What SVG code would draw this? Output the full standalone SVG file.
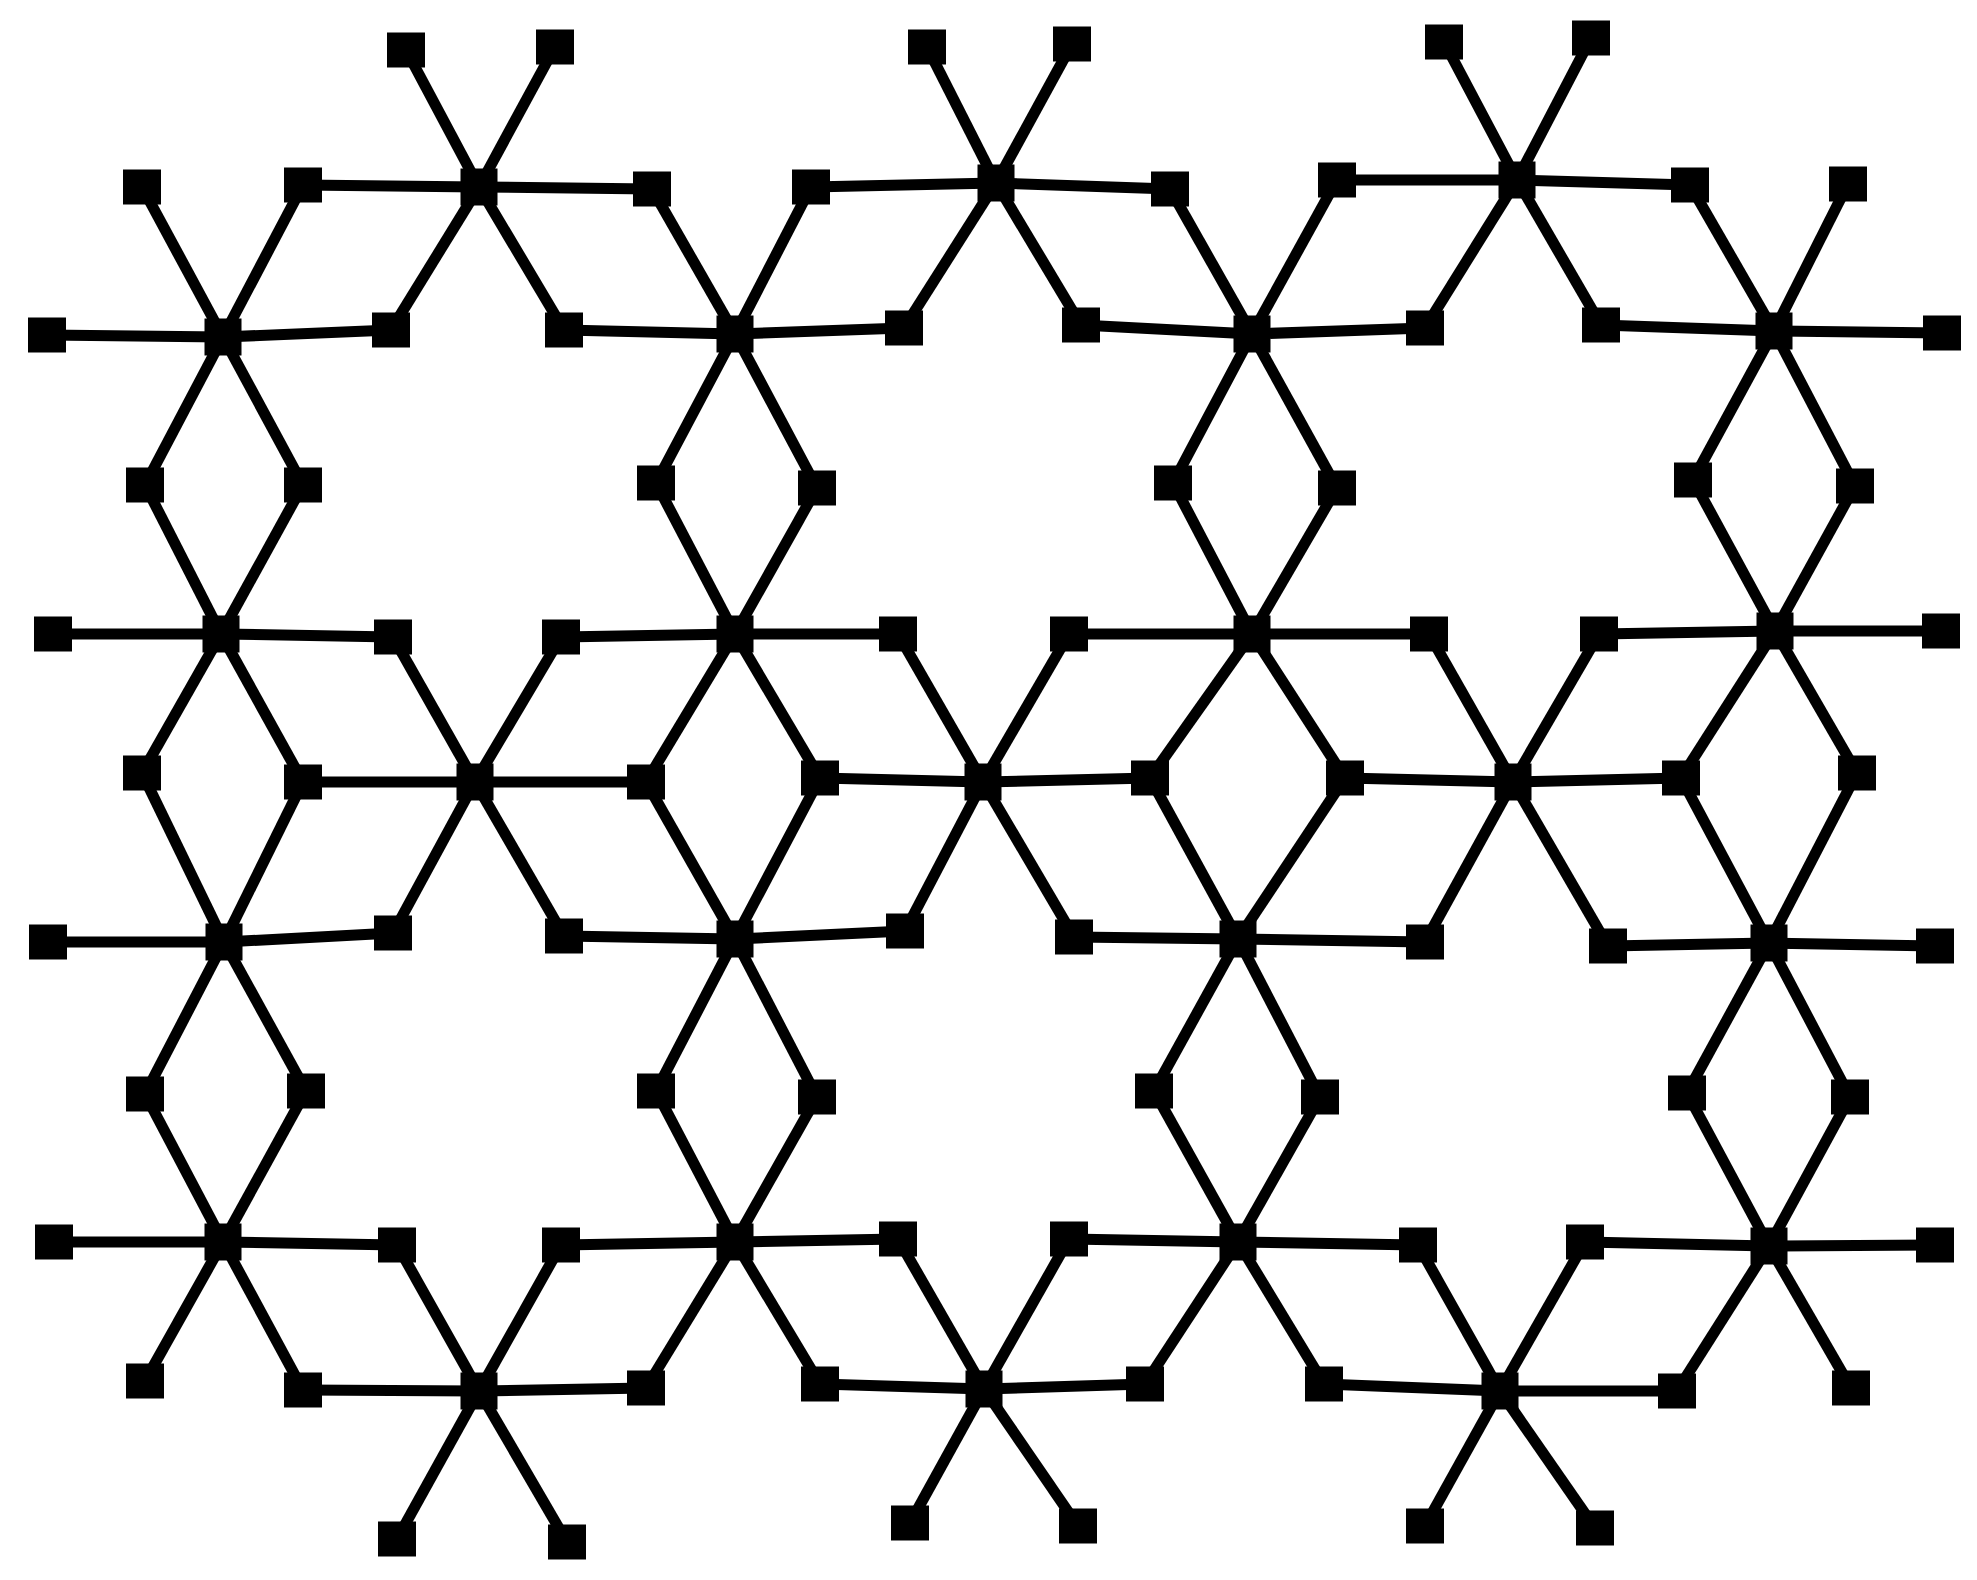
<svg xmlns="http://www.w3.org/2000/svg" xmlns:xlink="http://www.w3.org/1999/xlink" width="1977" height="1580" viewBox="0 0 1977 1580">
<style>
.e line{stroke:#000;stroke-width:11;stroke-linecap:butt}
</style>
<defs>
<rect id="leaf" x="-19" y="-17.5" width="38" height="35" fill="#000"/>
<rect id="hub" x="-18.5" y="-18.5" width="37" height="37" fill="#000"/>
</defs>
<rect width="1977" height="1580" fill="#fff"/>
<g id="connectors" class="e">
<!-- A1 -->
<line x1="479" y1="187" x2="406" y2="50"/><line x1="479" y1="187" x2="555" y2="47"/><line x1="479" y1="187" x2="303" y2="185"/><line x1="479" y1="187" x2="652" y2="189"/><line x1="479" y1="187" x2="391" y2="330"/><line x1="479" y1="187" x2="564" y2="330"/>
<!-- A2 -->
<line x1="996" y1="183" x2="927" y2="47"/><line x1="996" y1="183" x2="1072" y2="44"/><line x1="996" y1="183" x2="811" y2="187"/><line x1="996" y1="183" x2="1170" y2="189"/><line x1="996" y1="183" x2="904" y2="328"/><line x1="996" y1="183" x2="1081" y2="325"/>
<!-- A3 -->
<line x1="1517" y1="180" x2="1444" y2="42"/><line x1="1517" y1="180" x2="1591" y2="38"/><line x1="1517" y1="180" x2="1337" y2="180"/><line x1="1517" y1="180" x2="1690" y2="185"/><line x1="1517" y1="180" x2="1425" y2="328"/><line x1="1517" y1="180" x2="1601" y2="325"/>
<!-- B1 -->
<line x1="223" y1="337" x2="47" y2="335"/><line x1="223" y1="337" x2="391" y2="330"/><line x1="223" y1="337" x2="142" y2="187"/><line x1="223" y1="337" x2="303" y2="185"/><line x1="223" y1="337" x2="145" y2="485"/><line x1="223" y1="337" x2="303" y2="485"/>
<!-- B2 -->
<line x1="735" y1="334" x2="564" y2="330"/><line x1="735" y1="334" x2="904" y2="328"/><line x1="735" y1="334" x2="652" y2="189"/><line x1="735" y1="334" x2="811" y2="187"/><line x1="735" y1="334" x2="656" y2="483"/><line x1="735" y1="334" x2="817" y2="488"/>
<!-- B3 -->
<line x1="1252" y1="334" x2="1081" y2="325"/><line x1="1252" y1="334" x2="1425" y2="328"/><line x1="1252" y1="334" x2="1170" y2="189"/><line x1="1252" y1="334" x2="1337" y2="180"/><line x1="1252" y1="334" x2="1173" y2="483"/><line x1="1252" y1="334" x2="1337" y2="488"/>
<!-- B4 -->
<line x1="1774" y1="331" x2="1601" y2="325"/><line x1="1774" y1="331" x2="1942" y2="333"/><line x1="1774" y1="331" x2="1690" y2="185"/><line x1="1774" y1="331" x2="1848" y2="184"/><line x1="1774" y1="331" x2="1693" y2="480"/><line x1="1774" y1="331" x2="1855" y2="486"/>
<!-- C1 -->
<line x1="221" y1="634" x2="53" y2="634"/><line x1="221" y1="634" x2="393" y2="637"/><line x1="221" y1="634" x2="145" y2="485"/><line x1="221" y1="634" x2="303" y2="485"/><line x1="221" y1="634" x2="142" y2="773"/><line x1="221" y1="634" x2="303" y2="782"/>
<!-- C2 -->
<line x1="735" y1="634" x2="561" y2="637"/><line x1="735" y1="634" x2="898" y2="634"/><line x1="735" y1="634" x2="656" y2="483"/><line x1="735" y1="634" x2="817" y2="488"/><line x1="735" y1="634" x2="646" y2="782"/><line x1="735" y1="634" x2="820" y2="778"/>
<!-- C3 -->
<line x1="1252" y1="634" x2="1069" y2="634"/><line x1="1252" y1="634" x2="1429" y2="634"/><line x1="1252" y1="634" x2="1173" y2="483"/><line x1="1252" y1="634" x2="1337" y2="488"/><line x1="1252" y1="634" x2="1150" y2="778"/><line x1="1252" y1="634" x2="1345" y2="778"/>
<!-- C4 -->
<line x1="1775" y1="631" x2="1599" y2="634"/><line x1="1775" y1="631" x2="1941" y2="631"/><line x1="1775" y1="631" x2="1693" y2="480"/><line x1="1775" y1="631" x2="1855" y2="486"/><line x1="1775" y1="631" x2="1681" y2="778"/><line x1="1775" y1="631" x2="1857" y2="773"/>
<!-- D1 -->
<line x1="475" y1="782" x2="303" y2="782"/><line x1="475" y1="782" x2="646" y2="782"/><line x1="475" y1="782" x2="393" y2="637"/><line x1="475" y1="782" x2="561" y2="637"/><line x1="475" y1="782" x2="393" y2="933"/><line x1="475" y1="782" x2="564" y2="936"/>
<!-- D2 -->
<line x1="983" y1="782" x2="820" y2="778"/><line x1="983" y1="782" x2="1150" y2="778"/><line x1="983" y1="782" x2="898" y2="634"/><line x1="983" y1="782" x2="1069" y2="634"/><line x1="983" y1="782" x2="905" y2="931"/><line x1="983" y1="782" x2="1074" y2="937"/>
<!-- D3 -->
<line x1="1513" y1="782" x2="1345" y2="778"/><line x1="1513" y1="782" x2="1681" y2="778"/><line x1="1513" y1="782" x2="1429" y2="634"/><line x1="1513" y1="782" x2="1599" y2="634"/><line x1="1513" y1="782" x2="1425" y2="942"/><line x1="1513" y1="782" x2="1608" y2="946"/>
<!-- E1 -->
<line x1="224" y1="942" x2="48" y2="942"/><line x1="224" y1="942" x2="393" y2="933"/><line x1="224" y1="942" x2="142" y2="773"/><line x1="224" y1="942" x2="303" y2="782"/><line x1="224" y1="942" x2="145" y2="1094"/><line x1="224" y1="942" x2="306" y2="1091"/>
<!-- E2 -->
<line x1="735" y1="939" x2="564" y2="936"/><line x1="735" y1="939" x2="905" y2="931"/><line x1="735" y1="939" x2="646" y2="782"/><line x1="735" y1="939" x2="820" y2="778"/><line x1="735" y1="939" x2="656" y2="1091"/><line x1="735" y1="939" x2="817" y2="1097"/>
<!-- E3 -->
<line x1="1238" y1="939" x2="1074" y2="937"/><line x1="1238" y1="939" x2="1425" y2="942"/><line x1="1238" y1="939" x2="1150" y2="778"/><line x1="1238" y1="939" x2="1345" y2="778"/><line x1="1238" y1="939" x2="1154" y2="1091"/><line x1="1238" y1="939" x2="1320" y2="1097"/>
<!-- E4 -->
<line x1="1769" y1="943" x2="1608" y2="946"/><line x1="1769" y1="943" x2="1935" y2="946"/><line x1="1769" y1="943" x2="1681" y2="778"/><line x1="1769" y1="943" x2="1857" y2="773"/><line x1="1769" y1="943" x2="1687" y2="1093"/><line x1="1769" y1="943" x2="1850" y2="1097"/>
<!-- F1 -->
<line x1="223" y1="1242" x2="54" y2="1242"/><line x1="223" y1="1242" x2="397" y2="1245"/><line x1="223" y1="1242" x2="145" y2="1094"/><line x1="223" y1="1242" x2="306" y2="1091"/><line x1="223" y1="1242" x2="145" y2="1381"/><line x1="223" y1="1242" x2="303" y2="1390"/>
<!-- F2 -->
<line x1="735" y1="1242" x2="561" y2="1245"/><line x1="735" y1="1242" x2="898" y2="1239"/><line x1="735" y1="1242" x2="656" y2="1091"/><line x1="735" y1="1242" x2="817" y2="1097"/><line x1="735" y1="1242" x2="646" y2="1388"/><line x1="735" y1="1242" x2="820" y2="1384"/>
<!-- F3 -->
<line x1="1238" y1="1242" x2="1069" y2="1239"/><line x1="1238" y1="1242" x2="1418" y2="1245"/><line x1="1238" y1="1242" x2="1154" y2="1091"/><line x1="1238" y1="1242" x2="1320" y2="1097"/><line x1="1238" y1="1242" x2="1145" y2="1384"/><line x1="1238" y1="1242" x2="1324" y2="1384"/>
<!-- F4 -->
<line x1="1769" y1="1246" x2="1585" y2="1242"/><line x1="1769" y1="1246" x2="1935" y2="1245"/><line x1="1769" y1="1246" x2="1687" y2="1093"/><line x1="1769" y1="1246" x2="1850" y2="1097"/><line x1="1769" y1="1246" x2="1677" y2="1391"/><line x1="1769" y1="1246" x2="1851" y2="1388"/>
<!-- G1 -->
<line x1="479" y1="1391" x2="303" y2="1390"/><line x1="479" y1="1391" x2="646" y2="1388"/><line x1="479" y1="1391" x2="397" y2="1245"/><line x1="479" y1="1391" x2="561" y2="1245"/><line x1="479" y1="1391" x2="397" y2="1539"/><line x1="479" y1="1391" x2="567" y2="1542"/>
<!-- G2 -->
<line x1="984" y1="1389" x2="820" y2="1384"/><line x1="984" y1="1389" x2="1145" y2="1384"/><line x1="984" y1="1389" x2="898" y2="1239"/><line x1="984" y1="1389" x2="1069" y2="1239"/><line x1="984" y1="1389" x2="910" y2="1523"/><line x1="984" y1="1389" x2="1078" y2="1526"/>
<!-- G3 -->
<line x1="1500" y1="1391" x2="1324" y2="1384"/><line x1="1500" y1="1391" x2="1677" y2="1391"/><line x1="1500" y1="1391" x2="1418" y2="1245"/><line x1="1500" y1="1391" x2="1585" y2="1242"/><line x1="1500" y1="1391" x2="1425" y2="1526"/><line x1="1500" y1="1391" x2="1595" y2="1528"/>
</g>
<g id="hubs">
<g id="hA1"><use href="#hub" x="479" y="187"/></g>
<g id="hA2"><use href="#hub" x="996" y="183"/></g>
<g id="hA3"><use href="#hub" x="1517" y="180"/></g>
<g id="hB1"><use href="#hub" x="223" y="337"/></g>
<g id="hB2"><use href="#hub" x="735" y="334"/></g>
<g id="hB3"><use href="#hub" x="1252" y="334"/></g>
<g id="hB4"><use href="#hub" x="1774" y="331"/></g>
<g id="hC1"><use href="#hub" x="221" y="634"/></g>
<g id="hC2"><use href="#hub" x="735" y="634"/></g>
<g id="hC3"><use href="#hub" x="1252" y="634"/></g>
<g id="hC4"><use href="#hub" x="1775" y="631"/></g>
<g id="hD1"><use href="#hub" x="475" y="782"/></g>
<g id="hD2"><use href="#hub" x="983" y="782"/></g>
<g id="hD3"><use href="#hub" x="1513" y="782"/></g>
<g id="hE1"><use href="#hub" x="224" y="942"/></g>
<g id="hE2"><use href="#hub" x="735" y="939"/></g>
<g id="hE3"><use href="#hub" x="1238" y="939"/></g>
<g id="hE4"><use href="#hub" x="1769" y="943"/></g>
<g id="hF1"><use href="#hub" x="223" y="1242"/></g>
<g id="hF2"><use href="#hub" x="735" y="1242"/></g>
<g id="hF3"><use href="#hub" x="1238" y="1242"/></g>
<g id="hF4"><use href="#hub" x="1769" y="1246"/></g>
<g id="hG1"><use href="#hub" x="479" y="1391"/></g>
<g id="hG2"><use href="#hub" x="984" y="1389"/></g>
<g id="hG3"><use href="#hub" x="1500" y="1391"/></g>
</g>
<g id="leaves">
<g id="l0a"><use href="#leaf" x="406" y="50"/></g>
<g id="l0b"><use href="#leaf" x="555" y="47"/></g>
<g id="l0c"><use href="#leaf" x="927" y="47"/></g>
<g id="l0d"><use href="#leaf" x="1072" y="44"/></g>
<g id="l0e"><use href="#leaf" x="1444" y="42"/></g>
<g id="l0f"><use href="#leaf" x="1591" y="38"/></g>
<g id="l1a"><use href="#leaf" x="142" y="187"/></g>
<g id="l1b"><use href="#leaf" x="303" y="185"/></g>
<g id="l1c"><use href="#leaf" x="652" y="189"/></g>
<g id="l1d"><use href="#leaf" x="811" y="187"/></g>
<g id="l1e"><use href="#leaf" x="1170" y="189"/></g>
<g id="l1f"><use href="#leaf" x="1337" y="180"/></g>
<g id="l1g"><use href="#leaf" x="1690" y="185"/></g>
<g id="l1h"><use href="#leaf" x="1848" y="184"/></g>
<g id="l2a"><use href="#leaf" x="47" y="335"/></g>
<g id="l2b"><use href="#leaf" x="391" y="330"/></g>
<g id="l2c"><use href="#leaf" x="564" y="330"/></g>
<g id="l2d"><use href="#leaf" x="904" y="328"/></g>
<g id="l2e"><use href="#leaf" x="1081" y="325"/></g>
<g id="l2f"><use href="#leaf" x="1425" y="328"/></g>
<g id="l2g"><use href="#leaf" x="1601" y="325"/></g>
<g id="l2h"><use href="#leaf" x="1942" y="333"/></g>
<g id="l3a"><use href="#leaf" x="145" y="485"/></g>
<g id="l3b"><use href="#leaf" x="303" y="485"/></g>
<g id="l3c"><use href="#leaf" x="656" y="483"/></g>
<g id="l3d"><use href="#leaf" x="817" y="488"/></g>
<g id="l3e"><use href="#leaf" x="1173" y="483"/></g>
<g id="l3f"><use href="#leaf" x="1337" y="488"/></g>
<g id="l3g"><use href="#leaf" x="1693" y="480"/></g>
<g id="l3h"><use href="#leaf" x="1855" y="486"/></g>
<g id="l4a"><use href="#leaf" x="53" y="634"/></g>
<g id="l4b"><use href="#leaf" x="393" y="637"/></g>
<g id="l4c"><use href="#leaf" x="561" y="637"/></g>
<g id="l4d"><use href="#leaf" x="898" y="634"/></g>
<g id="l4e"><use href="#leaf" x="1069" y="634"/></g>
<g id="l4f"><use href="#leaf" x="1429" y="634"/></g>
<g id="l4g"><use href="#leaf" x="1599" y="634"/></g>
<g id="l4h"><use href="#leaf" x="1941" y="631"/></g>
<g id="l5a"><use href="#leaf" x="142" y="773"/></g>
<g id="l5b"><use href="#leaf" x="303" y="782"/></g>
<g id="l5c"><use href="#leaf" x="646" y="782"/></g>
<g id="l5d"><use href="#leaf" x="820" y="778"/></g>
<g id="l5e"><use href="#leaf" x="1150" y="778"/></g>
<g id="l5f"><use href="#leaf" x="1345" y="778"/></g>
<g id="l5g"><use href="#leaf" x="1681" y="778"/></g>
<g id="l5h"><use href="#leaf" x="1857" y="773"/></g>
<g id="l6a"><use href="#leaf" x="48" y="942"/></g>
<g id="l6b"><use href="#leaf" x="393" y="933"/></g>
<g id="l6c"><use href="#leaf" x="564" y="936"/></g>
<g id="l6d"><use href="#leaf" x="905" y="931"/></g>
<g id="l6e"><use href="#leaf" x="1074" y="937"/></g>
<g id="l6f"><use href="#leaf" x="1425" y="942"/></g>
<g id="l6g"><use href="#leaf" x="1608" y="946"/></g>
<g id="l6h"><use href="#leaf" x="1935" y="946"/></g>
<g id="l7a"><use href="#leaf" x="145" y="1094"/></g>
<g id="l7b"><use href="#leaf" x="306" y="1091"/></g>
<g id="l7c"><use href="#leaf" x="656" y="1091"/></g>
<g id="l7d"><use href="#leaf" x="817" y="1097"/></g>
<g id="l7e"><use href="#leaf" x="1154" y="1091"/></g>
<g id="l7f"><use href="#leaf" x="1320" y="1097"/></g>
<g id="l7g"><use href="#leaf" x="1687" y="1093"/></g>
<g id="l7h"><use href="#leaf" x="1850" y="1097"/></g>
<g id="l8a"><use href="#leaf" x="54" y="1242"/></g>
<g id="l8b"><use href="#leaf" x="397" y="1245"/></g>
<g id="l8c"><use href="#leaf" x="561" y="1245"/></g>
<g id="l8d"><use href="#leaf" x="898" y="1239"/></g>
<g id="l8e"><use href="#leaf" x="1069" y="1239"/></g>
<g id="l8f"><use href="#leaf" x="1418" y="1245"/></g>
<g id="l8g"><use href="#leaf" x="1585" y="1242"/></g>
<g id="l8h"><use href="#leaf" x="1935" y="1245"/></g>
<g id="l9a"><use href="#leaf" x="145" y="1381"/></g>
<g id="l9b"><use href="#leaf" x="303" y="1390"/></g>
<g id="l9c"><use href="#leaf" x="646" y="1388"/></g>
<g id="l9d"><use href="#leaf" x="820" y="1384"/></g>
<g id="l9e"><use href="#leaf" x="1145" y="1384"/></g>
<g id="l9f"><use href="#leaf" x="1324" y="1384"/></g>
<g id="l9g"><use href="#leaf" x="1677" y="1391"/></g>
<g id="l9h"><use href="#leaf" x="1851" y="1388"/></g>
<g id="l10a"><use href="#leaf" x="397" y="1539"/></g>
<g id="l10b"><use href="#leaf" x="567" y="1542"/></g>
<g id="l10c"><use href="#leaf" x="910" y="1523"/></g>
<g id="l10d"><use href="#leaf" x="1078" y="1526"/></g>
<g id="l10e"><use href="#leaf" x="1425" y="1526"/></g>
<g id="l10f"><use href="#leaf" x="1595" y="1528"/></g>
</g>
</svg>
